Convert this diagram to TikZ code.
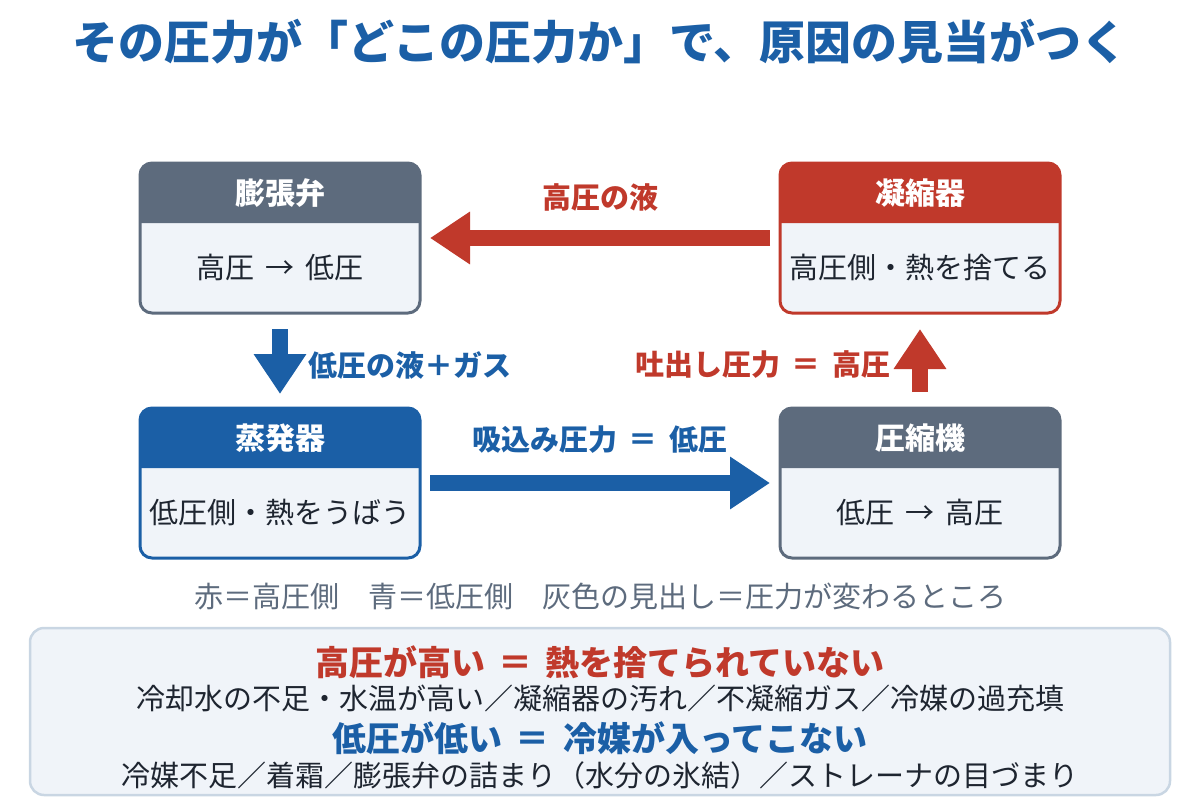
\documentclass[tikz,border=0pt]{standalone}
\usepackage{fontspec}
\setmainfont{Noto Sans CJK JP}
\usepackage{tikz}
\usetikzlibrary{arrows.meta}
\definecolor{HighColor}{RGB}{192,57,43}
\definecolor{LowColor}{RGB}{27,95,166}
\definecolor{SlateColor}{RGB}{93,107,125}
\definecolor{BodyFill}{RGB}{240,244,249}
\definecolor{NoteLine}{RGB}{201,214,227}
\definecolor{InkColor}{RGB}{30,37,48}
\tikzset{
    unitbox/.style={draw=#1,fill=BodyFill,line width=3pt,rounded corners=12pt,
        minimum width=280pt,minimum height=150pt,outer sep=0pt},
    headtxt/.style={text=white,font=\fontsize{30}{36}\selectfont\bfseries},
    bodytxt/.style={text=InkColor,font=\fontsize{29}{34}\selectfont},
    flowlbl/.style={text=#1,font=\fontsize{29}{34}\selectfont\bfseries},
    flowarrow/.style={draw=#1,line width=16pt,
        -{Triangle[length=40pt,width=50pt]}},
}
\begin{document}
\begin{tikzpicture}[x=1pt,y=-1pt]
\useasboundingbox (0,0) rectangle (1200,800);

\node[text=LowColor,font=\fontsize{46}{54}\selectfont\bfseries] (title) at (600,42)
    {その圧力が「どこの圧力か」で、原因の見当がつく};

% the four units
\node[unitbox=SlateColor] (exv) at (280,238) {};
\node[unitbox=HighColor] (cond) at (920,238) {};
\node[unitbox=LowColor] (evap) at (280,483) {};
\node[unitbox=SlateColor] (comp) at (920,483) {};

\foreach \u/\c in {exv/SlateColor,cond/HighColor,evap/LowColor,comp/SlateColor}{
    \fill[\c] ([yshift=-60pt]\u.north west)
        {[rounded corners=12pt] -- (\u.north west) -- (\u.north east)}
        -- ([yshift=-60pt]\u.north east) -- cycle;
}

\node[headtxt] (exvhead) at ([yshift=-30pt]exv.north) {膨張弁};
\node[headtxt] (condhead) at ([yshift=-30pt]cond.north) {凝縮器};
\node[headtxt] (evaphead) at ([yshift=-30pt]evap.north) {蒸発器};
\node[headtxt] (comphead) at ([yshift=-30pt]comp.north) {圧縮機};

\node[bodytxt] (exvbody) at ([yshift=-29pt]exv.center) {高圧 \,→\, 低圧};
\node[bodytxt] (condbody) at ([yshift=-29pt]cond.center) {高圧側・熱を捨てる};
\node[bodytxt] (evapbody) at ([yshift=-29pt]evap.center) {低圧側・熱をうばう};
\node[bodytxt] (compbody) at ([yshift=-29pt]comp.center) {低圧 \,→\, 高圧};

% flow
\draw[flowarrow=HighColor,shorten <=10pt,shorten >=10pt] (cond) -- (exv);
\draw[flowarrow=LowColor,shorten <=16pt,shorten >=14pt] (exv) -- (evap);
\draw[flowarrow=LowColor,shorten <=10pt,shorten >=10pt] (evap) -- (comp);
\draw[flowarrow=HighColor,shorten <=16pt,shorten >=16pt] (comp) -- (cond);

\node[flowlbl=HighColor] (liqlbl) at (600,197) {高圧の液};
\node[flowlbl=LowColor,anchor=west] (mixlbl) at (305,365) {低圧の液＋ガス};
\node[flowlbl=LowColor] (suclbl) at (600,440) {吸込み圧力 \,＝\, 低圧};
\node[flowlbl=HighColor,anchor=east] (dislbl) at (894,365) {吐出し圧力 \,＝\, 高圧};

\node[text=SlateColor,font=\fontsize{29}{34}\selectfont] (legend) at (600,596)
    {赤＝高圧側　青＝低圧側　灰色の見出し＝圧力が変わるところ};

% causes
\draw[draw=NoteLine,fill=BodyFill,line width=2.5pt,rounded corners=14pt]
    (30,628) rectangle (1170,795);
\node[flowlbl=HighColor,font=\fontsize{34}{40}\selectfont\bfseries] (hihead) at (600,662)
    {高圧が高い \,＝\, 熱を捨てられていない};
\node[bodytxt] (hitxt) at (600,698)
    {冷却水の不足・水温が高い／凝縮器の汚れ／不凝縮ガス／冷媒の過充填};
\node[flowlbl=LowColor,font=\fontsize{34}{40}\selectfont\bfseries] (lohead) at (600,738)
    {低圧が低い \,＝\, 冷媒が入ってこない};
\node[bodytxt] (lotxt) at (600,775)
    {冷媒不足／着霜／膨張弁の詰まり（水分の氷結）／ストレーナの目づまり};
\end{tikzpicture}
\end{document}
